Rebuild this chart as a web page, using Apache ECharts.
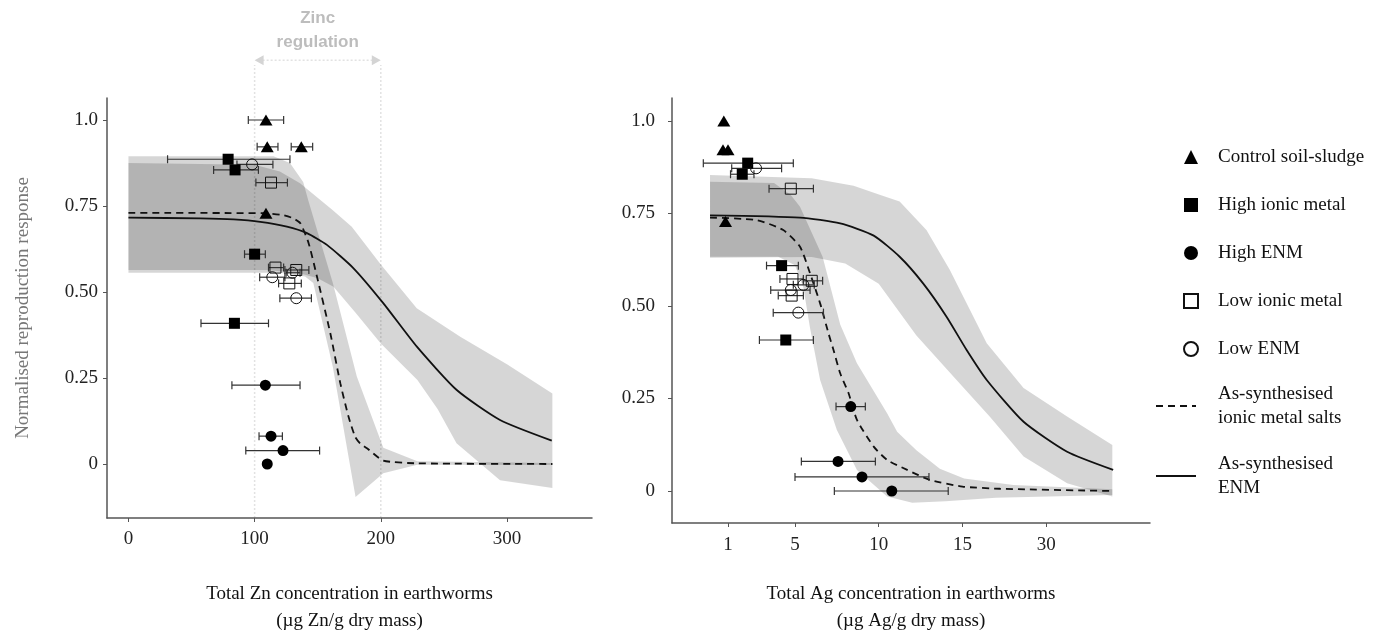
<!DOCTYPE html>
<html>
<head>
<meta charset="utf-8">
<script src="https://cdn.jsdelivr.net/npm/echarts@6/dist/echarts.min.js"></script>
<style>
html,body{margin:0;padding:0;background:#fff}
#chart{width:1386px;height:637px}
</style>
</head>
<body>
<div id="chart"></div>
<script>
// tick labels
var yTickValues=[0,0.25,0.5,0.75,1];
var yTickLabels=['0','0.25','0.50','0.75','1.0'];
var znTickValues=[0,100,200,300];
var agTickPos=[0,0.8,1.8,2.8,3.8];
var agTickLabels=['1','5','10','15','30'];
var zincRegulation=[100,200];

// Zn panel points: [x, y, errLow, errHigh]
var znControl=[[109,1.0,95,123],[110,0.922,102,118.5],[137,0.922,129,146],[109,0.729]];
var znHighIonic=[[79,0.886,31,128],[84.5,0.855,67.5,103],[100,0.61,92,108.5],[84,0.409,57.5,111]];
var znHighEnm=[[108.5,0.229,82,136],[113,0.081,103.5,122],[122.5,0.039,93,151.5],[110,0]];
var znLowIonic=[[113,0.818,101,126],[116.5,0.571,111,123],[133,0.564,124,143],[127.5,0.525,119,137]];
var znLowEnm=[[98,0.871,86,114.5],[130,0.556,125,136],[114,0.543,104,124],[133,0.482,120,145]];

// Zn fitted curves and bands
var znIonicCurve=[[0,0.73],[107,0.729],[121.7,0.724],[130,0.715],[136.2,0.70],[142.8,0.642],[149.4,0.545],[160,0.38],[167.9,0.235],[174.4,0.138],[179.7,0.079],[184,0.058],[189,0.046],[202,0.01],[228.6,0.002],[336,0]];
var znEnmCurve=[[0,0.716],[57,0.714],[83.4,0.711],[104.5,0.704],[125.6,0.69],[141.5,0.671],[157.3,0.637],[178.4,0.569],[202.1,0.467],[228.6,0.341],[260.2,0.215],[294.5,0.128],[335.5,0.068]];
var znIonicUpper=[[0,0.895],[115,0.895],[128,0.875],[138.5,0.82],[142.5,0.767],[162,0.526],[181,0.254],[202,0.047],[229,0.008],[336,0.003]];
var znIonicLower=[[0,0.556],[120,0.556],[140,0.545],[146.5,0.526],[162,0.282],[180,-0.096],[202,-0.027],[229,-0.002],[336,-0.003]];
var znEnmUpper=[[0,0.875],[100,0.87],[120,0.85],[136,0.816],[162,0.738],[177,0.69],[200,0.58],[228.5,0.453],[263,0.37],[300,0.29],[336,0.205]];
var znEnmLower=[[0,0.564],[110,0.564],[135,0.555],[150,0.54],[162.5,0.515],[180,0.44],[200,0.35],[229,0.244],[245,0.16],[260,0.06],[294.5,-0.047],[336,-0.07]];

// Ag panel points (x in axis position units): [x, y, errLow, errHigh]
var agControl=[[-0.05,1.0],[-0.06,0.922],[0,0.922],[-0.03,0.728]];
var agHighIonic=[[0.235,0.886,-0.295,0.78],[0.17,0.856,0.03,0.31],[0.64,0.609,0.46,0.84],[0.69,0.408,0.375,1.02]];
var agHighEnm=[[1.466,0.228,1.29,1.64],[1.314,0.08,0.876,1.76],[1.6,0.038,0.8,2.4],[1.956,0,1.27,2.63]];
var agLowIonic=[[0.75,0.817,0.49,1.02],[0.77,0.573,0.62,0.9],[1.0,0.568,0.9,1.13],[0.76,0.528,0.6,0.9]];
var agLowEnm=[[0.335,0.872,0.044,0.64],[0.9,0.557,0.78,1.03],[0.75,0.543,0.51,0.98],[0.84,0.482,0.54,1.14]];

// Ag fitted curves and bands
var agIonicCurve=[[-0.215,0.739],[0.343,0.732],[0.66,0.705],[0.86,0.66],[0.98,0.588],[1.1,0.507],[1.2,0.426],[1.26,0.381],[1.34,0.318],[1.44,0.264],[1.54,0.192],[1.74,0.12],[1.9,0.084],[2.14,0.057],[2.41,0.03],[2.8,0.012],[3.25,0.006],[4.59,0]];
var agEnmCurve=[[-0.215,0.745],[0.86,0.739],[1.34,0.723],[1.74,0.69],[2.05,0.633],[2.33,0.561],[2.61,0.471],[2.85,0.381],[3.09,0.3],[3.53,0.187],[4.05,0.106],[4.6,0.057]];
var agIonicUpper=[[-0.215,0.836],[0.55,0.832],[0.75,0.80],[0.86,0.768],[1.13,0.633],[1.34,0.45],[1.54,0.345],[1.9,0.21],[2.02,0.16],[2.25,0.11],[2.53,0.06],[2.82,0.034],[3.41,0.016],[4.59,0.005]];
var agIonicLower=[[-0.215,0.633],[0.6,0.633],[0.8,0.61],[0.9,0.55],[0.98,0.44],[1.1,0.30],[1.3,0.165],[1.54,0.057],[1.9,-0.015],[2.2,-0.032],[2.6,-0.028],[3.2,-0.018],[4.59,-0.011]];
var agEnmUpper=[[-0.215,0.854],[1.0,0.845],[1.5,0.825],[1.82,0.8],[2.05,0.782],[2.37,0.705],[2.65,0.597],[3.09,0.399],[3.53,0.278],[4.05,0.201],[4.59,0.124]];
var agEnmLower=[[-0.215,0.63],[1.0,0.632],[1.4,0.615],[1.8,0.56],[2.25,0.42],[2.77,0.29],[3.13,0.2],[3.53,0.093],[4.05,0.021],[4.59,-0.015]];

var groupNames=['Control soil-sludge','High ionic metal','High ENM','Low ionic metal','Low ENM'];
var lineNames=['As-synthesised\nionic metal salts','As-synthesised\nENM'];

var serif='"Liberation Serif","Times New Roman",serif';
var dom=document.getElementById('chart');
var myChart=echarts.init(dom);

var symbols=[
	{symbol:'triangle',symbolSize:[13,11],itemStyle:{color:'#000',opacity:1}},
	{symbol:'rect',symbolSize:11,itemStyle:{color:'#000',opacity:1}},
	{symbol:'circle',symbolSize:11,itemStyle:{color:'#000',opacity:1}},
	{symbol:'rect',symbolSize:11,itemStyle:{color:'rgba(255,255,255,0)',borderColor:'#111',borderWidth:1,opacity:1}},
	{symbol:'circle',symbolSize:11,itemStyle:{color:'rgba(255,255,255,0)',borderColor:'#111',borderWidth:1,opacity:1}}
];

function band(upper,lower,idx){
	return {
		type:'custom',xAxisIndex:idx,yAxisIndex:idx,silent:true,z:1,
		data:[[upper[0][0],upper[0][1]]],
		renderItem:function(params,api){
			var pts=upper.map(function(p){return api.coord(p);})
				.concat(lower.slice().reverse().map(function(p){return api.coord(p);}));
			return {type:'polygon',shape:{points:pts},style:{fill:'rgba(0,0,0,0.16)'}};
		}
	};
}

function errBars(rows,idx){
	return {
		type:'custom',xAxisIndex:idx,yAxisIndex:idx,silent:true,z:3,
		dimensions:['x','y','lo','hi'],
		encode:{x:0,y:1},
		data:rows,
		renderItem:function(params,api){
			var y=api.value(1);
			var a=api.coord([api.value(2),y]);
			var b=api.coord([api.value(3),y]);
			var st={stroke:'#333',lineWidth:1.2};
			return {type:'group',children:[
				{type:'line',shape:{x1:a[0],y1:a[1],x2:b[0],y2:b[1]},style:st},
				{type:'line',shape:{x1:a[0],y1:a[1]-4,x2:a[0],y2:a[1]+4},style:st},
				{type:'line',shape:{x1:b[0],y1:b[1]-4,x2:b[0],y2:b[1]+4},style:st}
			]};
		}
	};
}

function curve(name,data,idx,dashed){
	return {
		name:name,type:'line',xAxisIndex:idx,yAxisIndex:idx,data:data,
		symbol:'none',smooth:0.2,z:2,silent:true,
		itemStyle:{color:'#111'},
		lineStyle:{color:'#111',width:1.8,type:dashed?[7,5]:'solid'}
	};
}

var znGroups=[znControl,znHighIonic,znHighEnm,znLowIonic,znLowEnm];
var agGroups=[agControl,agHighIonic,agHighEnm,agLowIonic,agLowEnm];

function hasErr(r){return r.length===4;}
var series=[
	band(znIonicUpper,znIonicLower,0),
	band(znEnmUpper,znEnmLower,0),
	band(agIonicUpper,agIonicLower,1),
	band(agEnmUpper,agEnmLower,1),
	curve(lineNames[0],znIonicCurve,0,true),
	curve(lineNames[1],znEnmCurve,0,false),
	curve(lineNames[0],agIonicCurve,1,true),
	curve(lineNames[1],agEnmCurve,1,false),
	errBars([].concat.apply([],znGroups).filter(hasErr),0),
	errBars([].concat.apply([],agGroups).filter(hasErr),1)
];
[znGroups,agGroups].forEach(function(groups,idx){
	groups.forEach(function(rows,g){
		series.push({
			name:groupNames[g],type:'scatter',xAxisIndex:idx,yAxisIndex:idx,z:4,
			symbol:symbols[g].symbol,symbolSize:symbols[g].symbolSize,itemStyle:symbols[g].itemStyle,
			encode:{x:0,y:1},
			data:rows.map(function(r){return [r[0],r[1]];})
		});
	});
});

function yAxisFor(idx,margin){
	return {
		type:'value',gridIndex:idx,min:idx===0?-0.157:-0.0865,max:idx===0?1.064:1.062,
		name:idx===0?'Normalised reproduction response':'',
		nameLocation:'middle',nameGap:74,
		nameTextStyle:{fontFamily:serif,fontSize:19,color:'#777'},
		splitLine:{show:false},
		axisLine:{show:true,onZero:false,lineStyle:{color:'#555',width:1.5}},
		axisTick:{show:true,length:4,customValues:yTickValues,lineStyle:{color:'#555'}},
		axisLabel:{customValues:yTickValues,margin:margin,fontFamily:serif,fontSize:19,color:'#222',
			formatter:function(v){var i=yTickValues.indexOf(v);return i>=0?yTickLabels[i]:'';}}
	};
}

var option={
	animation:false,
	backgroundColor:'#fff',
	grid:[
		{left:107,top:98,width:485,height:420,outerBoundsMode:'none'},
		{left:672,top:98,width:478,height:425,outerBoundsMode:'none'}
	],
	xAxis:[
		{
			type:'value',gridIndex:0,min:-17,max:367.4,
			name:'Total Zn concentration in earthworms\n(µg Zn/g dry mass)',
			nameLocation:'middle',nameGap:63,
			nameTextStyle:{fontFamily:serif,fontSize:19,color:'#111',lineHeight:27},
			splitLine:{show:false},
			axisLine:{onZero:false,lineStyle:{color:'#555',width:1.5}},
			axisTick:{show:true,length:4,customValues:znTickValues,lineStyle:{color:'#555'}},
			axisLabel:{customValues:znTickValues,margin:12,fontFamily:serif,fontSize:19,color:'#222'}
		},
		{
			type:'value',gridIndex:1,min:-0.669,max:5.04,
			name:'Total Ag concentration in earthworms\n(µg Ag/g dry mass)',
			nameLocation:'middle',nameGap:58,
			nameTextStyle:{fontFamily:serif,fontSize:19,color:'#111',lineHeight:27},
			splitLine:{show:false},
			axisLine:{onZero:false,lineStyle:{color:'#555',width:1.5}},
			axisTick:{show:true,length:4,customValues:agTickPos,lineStyle:{color:'#555'}},
			axisLabel:{customValues:agTickPos,margin:13,fontFamily:serif,fontSize:19,color:'#222',
				formatter:function(v){var i=agTickPos.indexOf(v);return i>=0?agTickLabels[i]:'';}}
		}
	],
	yAxis:[yAxisFor(0,9),yAxisFor(1,17)],
	legend:[
		{
			data:groupNames,orient:'vertical',left:1183,top:145,padding:0,
			itemWidth:14,itemHeight:14,itemGap:24,selectedMode:false,
			textStyle:{fontFamily:serif,fontSize:19,color:'#111',lineHeight:24,padding:[0,0,0,15]}
		},
		{
			data:lineNames,orient:'vertical',left:1155,top:382,padding:0,
			itemWidth:40,itemHeight:14,itemGap:22,selectedMode:false,
			itemStyle:{color:'rgba(0,0,0,0)',borderColor:'rgba(0,0,0,0)',borderWidth:0},
			textStyle:{fontFamily:serif,fontSize:19,color:'#111',lineHeight:24,padding:[0,0,0,17]}
		}
	],
	series:series
};
myChart.setOption(option);

// zinc regulation annotation, positioned through the Zn axes
var toPx=function(p){return myChart.convertToPixel({xAxisIndex:0,yAxisIndex:0},p);};
var lo=toPx([zincRegulation[0],-0.157]), hiTop=toPx([zincRegulation[0],1.16]);
var lo2=toPx([zincRegulation[1],-0.157]);
var arrL=toPx([zincRegulation[0],1.174]), arrR=toPx([zincRegulation[1],1.174]);
var txt=toPx([(zincRegulation[0]+zincRegulation[1])/2,1.262]);
var dotted={stroke:'#e2e2e2',lineWidth:1.5,lineDash:[2,2]};
myChart.setOption({graphic:[
	{type:'line',z:0,shape:{x1:lo[0],y1:lo[1],x2:hiTop[0],y2:hiTop[1]},style:dotted},
	{type:'line',z:0,shape:{x1:lo2[0],y1:lo2[1],x2:lo2[0],y2:hiTop[1]},style:dotted},
	{type:'line',z:0,shape:{x1:arrL[0]+8,y1:arrL[1],x2:arrR[0]-8,y2:arrR[1]},style:dotted},
	{type:'polygon',shape:{points:[[arrL[0],arrL[1]],[arrL[0]+9,arrL[1]-5],[arrL[0]+9,arrL[1]+5]]},style:{fill:'#d4d4d4'}},
	{type:'polygon',shape:{points:[[arrR[0],arrR[1]],[arrR[0]-9,arrR[1]-5],[arrR[0]-9,arrR[1]+5]]},style:{fill:'#d4d4d4'}},
	{type:'text',x:txt[0],y:txt[1],style:{text:'Zinc\nregulation',align:'center',verticalAlign:'middle',
		font:'bold 17px "Liberation Sans", Arial, sans-serif',lineHeight:24,fill:'#bdbdbd'}}
]});
</script>
</body>
</html>
